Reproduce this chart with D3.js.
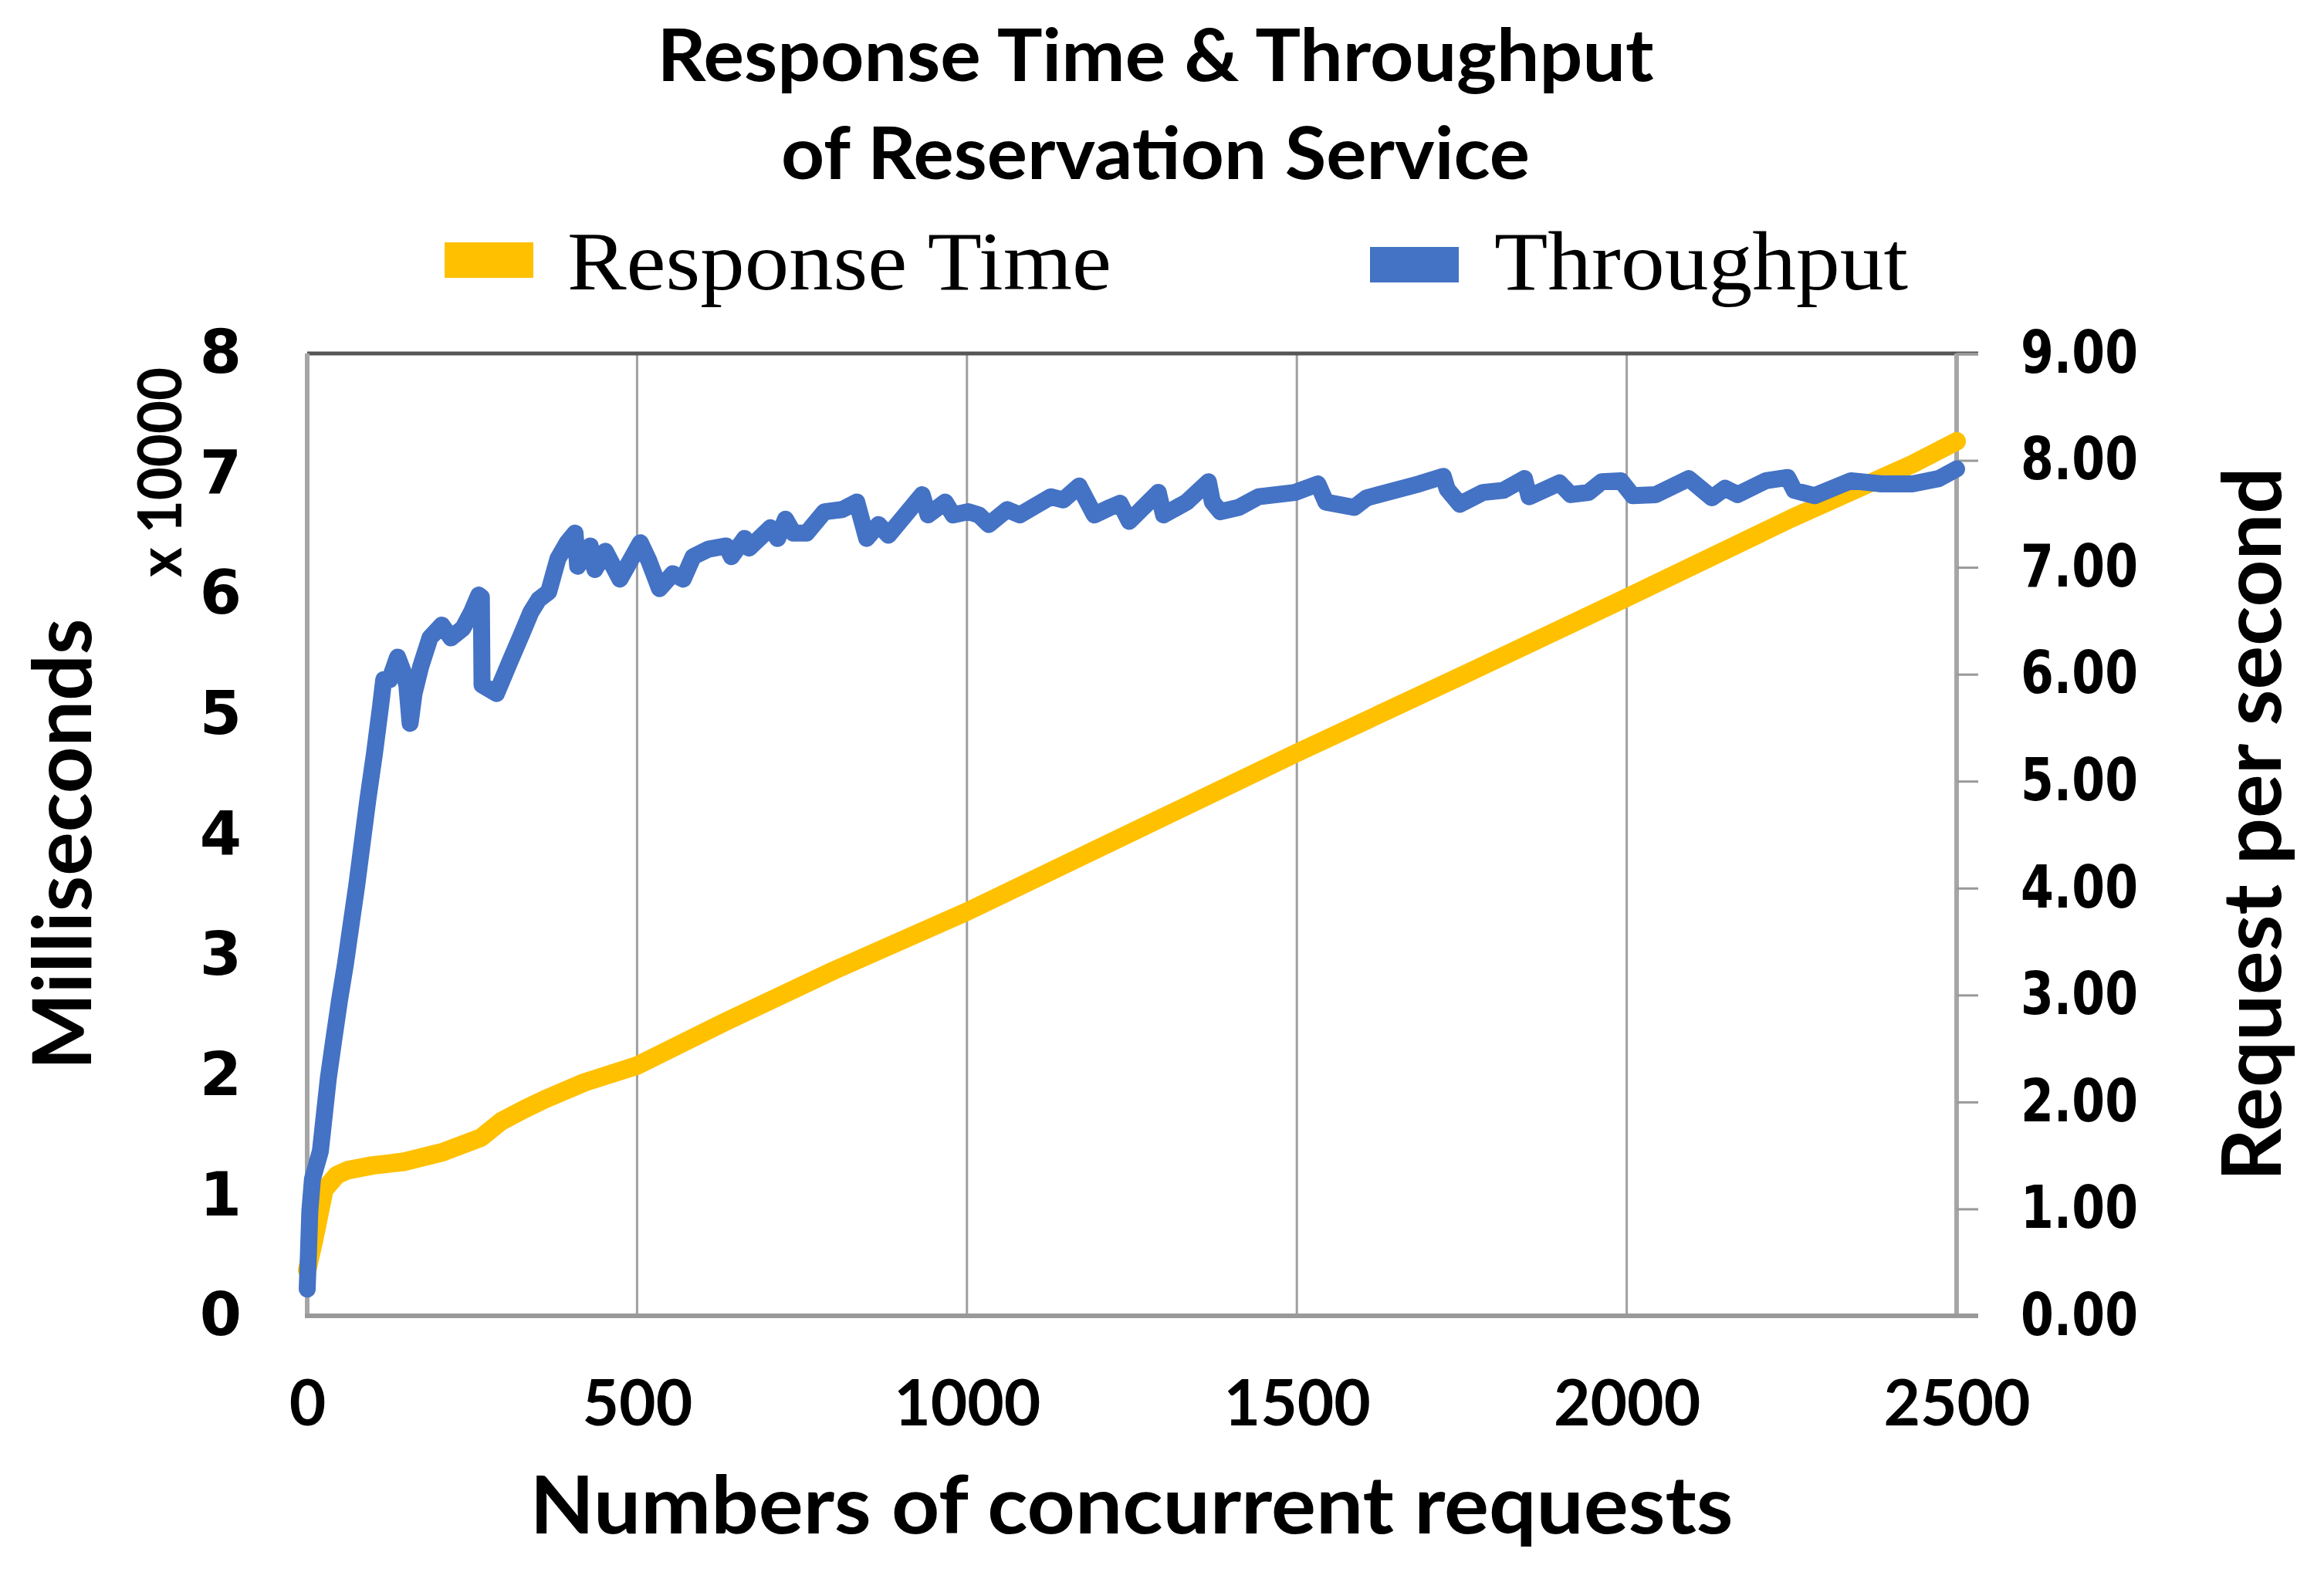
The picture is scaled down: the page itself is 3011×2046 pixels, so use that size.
<!DOCTYPE html>
<html>
<head>
<meta charset="utf-8">
<script src="https://cdn.jsdelivr.net/npm/d3@7.9.0/dist/d3.min.js"></script>
<style>
  body { margin: 0; background: #fff; }
  svg { display: block; }
</style>
</head>
<body>
<svg id="chart"></svg>
<script>
// Chart data
const xTicks = [0, 500, 1000, 1500, 2000, 2500];
const leftTicks = [0, 1, 2, 3, 4, 5, 6, 7, 8];
const rightTicks = [0, 1, 2, 3, 4, 5, 6, 7, 8, 9];

// Response time (ms, x 10000), left axis
const respX = [0, 10, 26, 45, 61, 99, 146, 205, 263, 295, 330, 360, 420, 500, 632, 798, 1000, 1250, 1500, 1750, 2000, 2250, 2433, 2500];
const respY = [0.38, 0.62, 1.05, 1.17, 1.21, 1.25, 1.28, 1.36, 1.48, 1.62, 1.72, 1.80, 1.94, 2.08, 2.44, 2.87, 3.36, 4.02, 4.68, 5.32, 5.97, 6.63, 7.08, 7.27];

// Throughput (requests per second), right axis
const thrX = [0, 2, 4, 8, 20, 26, 32, 40, 49, 58, 67, 75, 84, 92, 102, 111, 116, 125, 137, 145, 151, 156, 162, 172, 186, 204, 218, 236, 249, 260, 264, 265, 287, 308, 324, 339, 351, 366, 380, 394, 406, 410, 429, 436, 452, 474, 505, 518, 534, 554, 570, 585, 608, 635, 643, 663, 670, 702, 713, 725, 737, 757, 784, 811, 833, 848, 866, 881, 932, 941, 967, 979, 1002, 1018, 1033, 1061, 1080, 1127, 1146, 1170, 1193, 1217, 1232, 1246, 1290, 1298, 1333, 1366, 1372, 1384, 1412, 1442, 1497, 1532, 1544, 1587, 1606, 1685, 1722, 1728, 1747, 1782, 1813, 1845, 1852, 1898, 1915, 1942, 1962, 1991, 2009, 2044, 2094, 2129, 2149, 2168, 2211, 2244, 2254, 2285, 2340, 2386, 2433, 2473, 2500];
const thrY = [0.25, 0.60, 0.98, 1.28, 1.54, 1.88, 2.22, 2.57, 2.95, 3.29, 3.68, 4.02, 4.45, 4.83, 5.26, 5.69, 5.95, 5.95, 6.16, 6.03, 5.90, 5.54, 5.82, 6.07, 6.34, 6.46, 6.34, 6.43, 6.58, 6.74, 6.72, 5.90, 5.82, 6.13, 6.36, 6.58, 6.70, 6.77, 7.08, 7.23, 7.32, 7.01, 7.20, 6.98, 7.15, 6.89, 7.23, 7.06, 6.80, 6.94, 6.89, 7.10, 7.17, 7.20, 7.10, 7.27, 7.18, 7.37, 7.27, 7.45, 7.32, 7.32, 7.52, 7.54, 7.61, 7.27, 7.40, 7.30, 7.68, 7.49, 7.61, 7.49, 7.52, 7.49, 7.40, 7.54, 7.49, 7.66, 7.63, 7.76, 7.49, 7.56, 7.60, 7.43, 7.70, 7.49, 7.61, 7.80, 7.61, 7.52, 7.56, 7.66, 7.70, 7.78, 7.61, 7.56, 7.65, 7.78, 7.85, 7.73, 7.59, 7.70, 7.72, 7.83, 7.66, 7.79, 7.68, 7.70, 7.80, 7.81, 7.67, 7.68, 7.83, 7.65, 7.74, 7.68, 7.81, 7.84, 7.72, 7.67, 7.81, 7.78, 7.78, 7.83, 7.92];

const W = 3011, H = 2046;
const plot = { left: 398, right: 2535, top: 458, bottom: 1705 };

const svg = d3.select('#chart').attr('width', W).attr('height', H);
svg.append('rect').attr('width', W).attr('height', H).attr('fill', '#fff');

const x = d3.scaleLinear().domain([0, 2500]).range([plot.left, plot.right]);
const yL = d3.scaleLinear().domain([0, 8]).range([plot.bottom, plot.top]);
const yR = d3.scaleLinear().domain([0, 9]).range([plot.bottom, plot.top]);

// vertical gridlines
svg.append('g')
  .selectAll('line')
  .data(xTicks.slice(1, -1))
  .join('line')
  .attr('x1', d => x(d)).attr('x2', d => x(d))
  .attr('y1', plot.top).attr('y2', plot.bottom)
  .attr('stroke', '#a0a0a0').attr('stroke-width', 3);

// frame: dark top, grey sides and bottom
svg.append('line')
  .attr('x1', plot.left).attr('x2', plot.right + 28)
  .attr('y1', plot.top).attr('y2', plot.top)
  .attr('stroke', '#555').attr('stroke-width', 5);
svg.append('line')
  .attr('x1', plot.left).attr('x2', plot.left)
  .attr('y1', plot.top).attr('y2', plot.bottom)
  .attr('stroke', '#a6a6a6').attr('stroke-width', 6);
svg.append('line')
  .attr('x1', plot.right).attr('x2', plot.right)
  .attr('y1', plot.top).attr('y2', plot.bottom)
  .attr('stroke', '#a6a6a6').attr('stroke-width', 6);
svg.append('line')
  .attr('x1', plot.left - 3).attr('x2', plot.right + 28)
  .attr('y1', plot.bottom).attr('y2', plot.bottom)
  .attr('stroke', '#999').attr('stroke-width', 6);

// axes
const leftAxis = svg.append('g')
  .attr('transform', `translate(${plot.left},0)`)
  .call(d3.axisLeft(yL).tickValues(leftTicks).tickSize(0).tickPadding(85).tickFormat(d3.format('d')));

const rightAxis = svg.append('g')
  .attr('transform', `translate(${plot.right},0)`)
  .call(d3.axisRight(yR).tickValues(rightTicks).tickSize(28).tickPadding(55).tickFormat(d3.format('.2f')));

const bottomAxis = svg.append('g')
  .attr('transform', `translate(0,${plot.bottom})`)
  .call(d3.axisBottom(x).tickValues(xTicks).tickSize(0).tickPadding(84).tickFormat(d3.format('d')));

[leftAxis, rightAxis, bottomAxis].forEach(a => a.select('.domain').remove());
rightAxis.selectAll('.tick line').attr('stroke', '#999').attr('stroke-width', 3);

leftAxis.selectAll('text')
  .attr('font-family', '"DejaVu Sans", Verdana, sans-serif')
  .attr('font-weight', 'bold').attr('font-size', 78).attr('fill', '#000');
rightAxis.selectAll('text')
  .attr('font-family', '"DejaVu Sans", Verdana, sans-serif')
  .attr('font-weight', 'bold').attr('font-size', 76).attr('fill', '#000')
  .attr('textLength', 152).attr('lengthAdjust', 'spacingAndGlyphs');
bottomAxis.selectAll('text')
  .attr('font-family', 'Lato, sans-serif')
  .attr('font-weight', 'bold').attr('font-size', 82).attr('fill', '#000');

// series
const respData = respX.map((v, i) => ({ x: v, y: respY[i] }));
const thrData = thrX.map((v, i) => ({ x: v, y: thrY[i] }));

svg.append('path')
  .datum(respData)
  .attr('fill', 'none')
  .attr('stroke', '#FFC000')
  .attr('stroke-width', 24)
  .attr('stroke-linejoin', 'round')
  .attr('stroke-linecap', 'round')
  .attr('d', d3.line().x(d => x(d.x)).y(d => yL(d.y)));

svg.append('path')
  .datum(thrData)
  .attr('fill', 'none')
  .attr('stroke', '#4472C4')
  .attr('stroke-width', 22)
  .attr('stroke-linejoin', 'round')
  .attr('stroke-linecap', 'round')
  .attr('d', d3.line().x(d => x(d.x)).y(d => yR(d.y)));

// text helper
function label(txt, opts) {
  const t = svg.append('text')
    .attr('transform', opts.transform)
    .attr('text-anchor', opts.anchor || 'middle')
    .attr('font-family', opts.family || 'Lato, sans-serif')
    .attr('font-weight', opts.weight || 'bold')
    .attr('font-size', opts.size)
    .attr('fill', '#000')
    .text(txt);
  if (opts.len) t.attr('textLength', opts.len).attr('lengthAdjust', 'spacingAndGlyphs');
  return t;
}

// title
label('Response Time & Throughput', { transform: 'translate(1497,105)', size: 93, len: 1291 });
label('of Reservation Service', { transform: 'translate(1497,232)', size: 93, len: 970 });

// legend
svg.append('rect').attr('x', 576).attr('y', 314).attr('width', 115).attr('height', 46).attr('fill', '#FFC000');
svg.append('rect').attr('x', 1775).attr('y', 320).attr('width', 115).attr('height', 46).attr('fill', '#4472C4');
label('Response Time', { transform: 'translate(735,375)', anchor: 'start', family: '"Liberation Serif", "Times New Roman", serif', weight: 'normal', size: 108, len: 705 });
label('Throughput', { transform: 'translate(1936,375)', anchor: 'start', family: '"Liberation Serif", "Times New Roman", serif', weight: 'normal', size: 108, len: 536 });

// axis titles
label('Milliseconds', { transform: 'translate(118,1094) rotate(-90)', size: 105, len: 585 });
label('x 10000', { transform: 'translate(235,612) rotate(-90)', size: 78, len: 272 });
label('Request per second', { transform: 'translate(2955,1068) rotate(-90)', size: 105, len: 925 });
label('Numbers of concurrent requests', { transform: 'translate(1466,1987)', size: 103, len: 1559 });
</script>
</body>
</html>
